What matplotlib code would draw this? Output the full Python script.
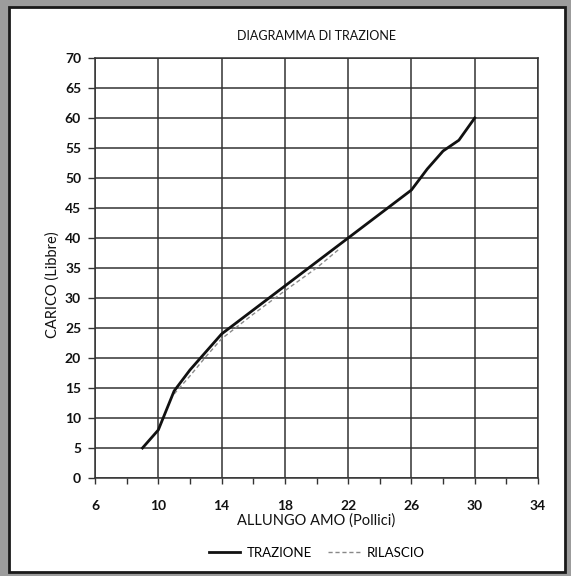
import matplotlib
matplotlib.use("Agg")
import matplotlib.pyplot as plt
from matplotlib.patches import Rectangle

# Data
trazione_x = [9, 10, 11, 12, 13, 14, 16, 18, 20, 22, 24, 26, 27, 28, 29, 30]
trazione_y = [5, 8, 14.5, 18, 21, 24, 28, 32, 36, 40, 44, 48, 51.5, 54.5, 56.3, 60]
rilascio_x = [11, 12, 13, 14, 16, 18, 20, 21.5]
rilascio_y = [14, 17, 20.2, 23.2, 27.3, 31.2, 35, 38.3]

x_major = [6, 10, 14, 18, 22, 26, 30, 34]
x_minor = [8, 12, 16, 20, 24, 28, 32]
y_major = [0, 5, 10, 15, 20, 25, 30, 35, 40, 45, 50, 55, 60, 65, 70]

title = "DIAGRAMMA DI TRAZIONE"
xlabel = "ALLUNGO AMO (Pollici)"
ylabel = "CARICO (Libbre)"

plt.rcParams['font.family'] = ['Lato', 'DejaVu Sans']
plt.rcParams['font.weight'] = 'bold'

fig = plt.figure(figsize=(5.71, 5.76), dpi=100)
fig.patch.set_facecolor('#9c9c9c')
fig.patches.append(Rectangle((9/571, 1-572/576), (565-9)/571, (572-7)/576,
                             transform=fig.transFigure, facecolor='white',
                             edgecolor='#1a1a1a', linewidth=2.0, zorder=-5))

ax = fig.add_axes([95/571, 1-478/576, (538-95)/571, (478-58)/576])
ax.set_zorder(2)
ax.set_facecolor('white')
ax.plot(trazione_x, trazione_y, color='#111111', lw=2.0, label='TRAZIONE', zorder=3)
ax.plot(rilascio_x, rilascio_y, color='#888888', lw=1.0, ls=(0, (3, 2)), label='RILASCIO', zorder=2)

ax.set_xlim(6, 34)
ax.set_ylim(0, 70)
ax.set_xticks(x_major)
ax.set_xticks(x_minor, minor=True)
ax.set_yticks(y_major)
ax.grid(True, which='major', color='#333333', lw=1.1)
ax.set_axisbelow(True)
for s in ax.spines.values():
    s.set_color('#333333')
    s.set_linewidth(1.1)
ax.tick_params(axis='both', which='both', direction='out', color='#333333', width=1.0,
               labelsize=10, labelcolor='#111111')
ax.tick_params(axis='x', which='both', length=4, pad=12)
ax.tick_params(axis='y', which='both', length=5, pad=5)

ax.set_title(title, fontsize=9, pad=13, color='#111111', fontweight='normal')
ax.set_xlabel(xlabel, fontsize=10.5, labelpad=1, color='#111111', fontweight='normal')
ax.set_ylabel(ylabel, fontsize=10.5, color='#111111', fontweight='normal')
ax.yaxis.set_label_coords(-0.08, 0.46)

leg = ax.legend(loc='upper center', bbox_to_anchor=(0.5, -0.135), ncol=2, frameon=False,
                handlelength=2.4, columnspacing=1.2, handletextpad=0.5,
                prop={'weight': 'normal', 'size': 9.5})

fig.savefig('out.png', dpi=100, facecolor=fig.get_facecolor())
